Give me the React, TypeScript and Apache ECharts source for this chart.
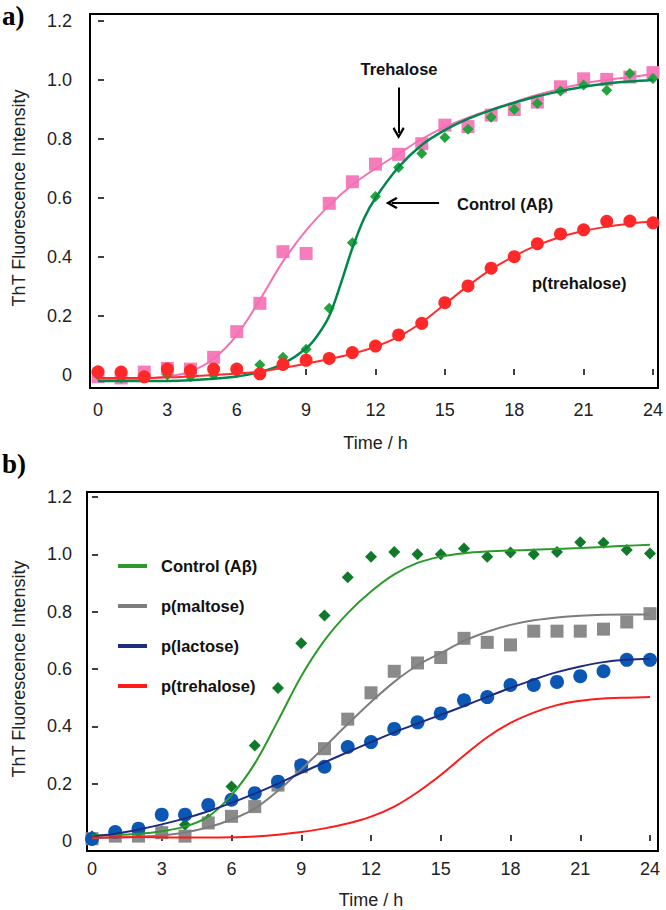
import React, { useEffect, useRef } from 'react';
import * as echarts from 'echarts';

// ---------- data ----------
const hours = [0, 1, 2, 3, 4, 5, 6, 7, 8, 9, 10, 11, 12, 13, 14, 15, 16, 17, 18, 19, 20, 21, 22, 23, 24];
const xTicks = [0, 3, 6, 9, 12, 15, 18, 21, 24];
const yTicks = [0, 0.2, 0.4, 0.6, 0.8, 1.0, 1.2];

// Panel a – measured points
const aTrehalosePts = [-0.006, -0.01, 0.01, 0.022, 0.02, 0.06, 0.147, 0.243, 0.418, 0.412, 0.582, 0.655, 0.715, 0.748, 0.784, 0.847, 0.842, 0.881, 0.9, 0.925, 0.977, 1.004, 1.002, 1.01, 1.025];
const aControlPts = [0.0, -0.01, -0.005, 0.0, -0.006, 0.0, 0.01, 0.035, 0.06, 0.087, 0.226, 0.448, 0.605, 0.703, 0.751, 0.805, 0.833, 0.874, 0.9, 0.92, 0.963, 0.983, 0.965, 1.022, 1.005];
const aPTrehalosePts = [0.011, 0.01, -0.006, 0.02, 0.015, 0.02, 0.02, 0.004, 0.036, 0.05, 0.056, 0.076, 0.098, 0.136, 0.175, 0.245, 0.302, 0.362, 0.401, 0.445, 0.478, 0.492, 0.521, 0.522, 0.516];

// Panel a – fitted curves
const aTrehaloseFit = [-0.015, -0.015, -0.012, -0.005, 0.012, 0.055, 0.135, 0.255, 0.385, 0.49, 0.575, 0.645, 0.7, 0.75, 0.8, 0.84, 0.872, 0.9, 0.925, 0.95, 0.97, 0.988, 1.0, 1.01, 1.02];
const aControlFitHours = [0, 1, 2, 3, 4, 5, 6, 7, 8, 9, 9.5, 10, 10.5, 11, 11.5, 12, 13, 14, 15, 16, 17, 18, 19, 20, 21, 22, 23, 24];
const aControlFit = [-0.02, -0.02, -0.02, -0.02, -0.018, -0.013, -0.005, 0.01, 0.038, 0.09, 0.135, 0.2, 0.31, 0.43, 0.53, 0.6, 0.705, 0.78, 0.83, 0.868, 0.898, 0.923, 0.945, 0.962, 0.977, 0.988, 0.995, 1.0];
const aPTrehaloseFit = [-0.01, -0.01, -0.01, -0.008, -0.005, 0.0, 0.005, 0.012, 0.024, 0.038, 0.054, 0.072, 0.096, 0.13, 0.178, 0.24, 0.302, 0.358, 0.403, 0.44, 0.468, 0.488, 0.503, 0.513, 0.52];

// Panel b – measured points
const bControlPts = [0.017, 0.02, 0.025, 0.035, 0.057, 0.075, 0.19, 0.333, 0.534, 0.69, 0.787, 0.92, 0.992, 1.008, 1.0, 1.0, 1.02, 0.992, 1.006, 1.0, 1.008, 1.042, 1.04, 1.015, 1.003];
const bMaltosePts = [0.008, 0.017, 0.017, 0.029, 0.017, 0.063, 0.086, 0.12, 0.195, 0.259, 0.322, 0.425, 0.517, 0.592, 0.621, 0.64, 0.707, 0.693, 0.684, 0.732, 0.732, 0.732, 0.739, 0.764, 0.793];
const bLactosePts = [0.007, 0.031, 0.043, 0.092, 0.092, 0.126, 0.144, 0.167, 0.207, 0.264, 0.259, 0.328, 0.345, 0.391, 0.414, 0.445, 0.491, 0.502, 0.544, 0.544, 0.555, 0.575, 0.592, 0.632, 0.632];

// Panel b – fitted curves
const bControlFit = [0.02, 0.021, 0.025, 0.034, 0.05, 0.085, 0.16, 0.27, 0.42, 0.575, 0.7, 0.795, 0.87, 0.93, 0.97, 0.992, 1.004, 1.01, 1.013, 1.016, 1.019, 1.022, 1.026, 1.03, 1.033];
const bMaltoseFit = [0.01, 0.012, 0.015, 0.02, 0.03, 0.048, 0.075, 0.113, 0.175, 0.25, 0.328, 0.408, 0.485, 0.555, 0.613, 0.655, 0.698, 0.73, 0.754, 0.77, 0.78, 0.786, 0.789, 0.79, 0.79];
const bLactoseFit = [0.015, 0.025, 0.04, 0.058, 0.079, 0.104, 0.133, 0.165, 0.2, 0.238, 0.274, 0.31, 0.345, 0.379, 0.41, 0.44, 0.471, 0.503, 0.534, 0.563, 0.589, 0.609, 0.624, 0.632, 0.636];
const bPTrehaloseFit = [0.012, 0.013, 0.014, 0.013, 0.012, 0.012, 0.013, 0.016, 0.022, 0.031, 0.044, 0.061, 0.085, 0.12, 0.17, 0.23, 0.298, 0.362, 0.412, 0.448, 0.474, 0.489, 0.497, 0.5, 0.502];

const legendNames = ['Control (Aβ)', 'p(maltose)', 'p(lactose)', 'p(trehalose)'];

// ---------- helpers ----------
const zip = (xs: number[], ys: number[]) => xs.map((x, i) => [x, ys[i]]);
const FONT = 'Liberation Sans, Arial, sans-serif';

const labelXAxis = (gridIndex: number, offset: number, nameGap: number) => ({
  gridIndex,
  type: 'value',
  min: xTicks[0],
  max: xTicks[xTicks.length - 1],
  interval: 3,
  offset,
  axisLine: { show: false },
  axisTick: { show: true, inside: true, length: 6, lineStyle: { color: '#000', width: 1.5 } },
  splitLine: { show: false },
  axisLabel: { fontSize: 18, color: '#222', margin: 13, fontFamily: FONT },
  name: 'Time / h',
  nameLocation: 'middle',
  nameGap,
  nameTextStyle: { fontSize: 18, color: '#222', fontFamily: FONT },
});

const labelYAxis = (gridIndex: number, offset: number, margin: number, nameGap: number) => ({
  gridIndex,
  type: 'value',
  min: yTicks[0],
  max: yTicks[yTicks.length - 1],
  interval: 0.2,
  offset,
  axisLine: { show: false },
  axisTick: { show: true, inside: true, length: 6, lineStyle: { color: '#000', width: 1.5 } },
  splitLine: { show: false },
  axisLabel: {
    fontSize: 18,
    color: '#222',
    margin,
    fontFamily: FONT,
    formatter: (v: number) => (Math.abs(v) < 1e-9 ? '0' : v.toFixed(1)),
  },
  name: 'ThT Fluorescence Intensity',
  nameLocation: 'middle',
  nameRotate: 90,
  nameGap,
  nameTextStyle: { fontSize: 18, color: '#222', fontFamily: FONT },
});

const hiddenAxis = (gridIndex: number) => ({ gridIndex, type: 'value', show: false, min: 0, max: 1 });

const scatter = (name: string, data: number[][], xi: number, symbol: string, size: number, color: string, z = 3) => ({
  name,
  type: 'scatter',
  xAxisIndex: xi,
  yAxisIndex: xi,
  data,
  symbol,
  symbolSize: size,
  itemStyle: { color, opacity: 1 },
  clip: false,
  z,
  silent: true,
});

const fitLine = (name: string, data: number[][], xi: number, color: string, width: number, z = 4, extra: any = {}) => ({
  name,
  type: 'line',
  xAxisIndex: xi,
  yAxisIndex: xi,
  data,
  color,
  showSymbol: false,
  symbol: 'none',
  smooth: 0.35,
  clip: false,
  lineStyle: { color, width },
  z,
  silent: true,
  ...extra,
});

const chevron = 'path://M5,0 L10,8 L8.6,9.2 L5,3.6 L1.4,9.2 L0,8 Z';

const option: any = {
  animation: false,
  backgroundColor: '#fff',
  textStyle: { fontFamily: FONT },
  grid: [
    { left: 90, top: 14, width: 568, height: 374, show: true, borderColor: '#000', borderWidth: 2, backgroundColor: 'transparent' },
    { left: 98, top: 21, width: 557, height: 354 },
    { left: 87, top: 492, width: 571, height: 359, show: true, borderColor: '#000', borderWidth: 2, backgroundColor: 'transparent' },
    { left: 92, top: 497, width: 558, height: 348 },
  ],
  xAxis: [hiddenAxis(0), labelXAxis(1, 13, 46), hiddenAxis(2), labelXAxis(3, 6, 44)],
  yAxis: [hiddenAxis(0), labelYAxis(1, 8, 18, 62), hiddenAxis(2), labelYAxis(3, 5, 15, 59)],
  legend: {
    data: legendNames,
    orient: 'vertical',
    left: 113,
    top: 551,
    icon: 'rect',
    itemWidth: 29,
    itemHeight: 4,
    itemGap: 20,
    selectedMode: false,
    textStyle: { fontSize: 16.5, fontWeight: 'bold', color: '#111', fontFamily: FONT, padding: [0, 0, 0, 9], lineHeight: 20 },
  },
  series: [
    // ----- panel a -----
    scatter('a-trehalose-pts', zip(hours, aTrehalosePts), 1, 'rect', 13, '#f67cbc', 3),
    fitLine('a-trehalose-fit', zip(hours, aTrehaloseFit), 1, '#f56fb3', 2, 4),
    scatter('a-control-pts', zip(hours, aControlPts), 1, 'diamond', 11, '#22a33c', 5),
    fitLine('a-control-fit', zip(aControlFitHours, aControlFit), 1, '#00874b', 2.5, 6),
    scatter('a-ptrehalose-pts', zip(hours, aPTrehalosePts), 1, 'circle', 13, '#ff2828', 7),
    fitLine('a-ptrehalose-fit', zip(hours, aPTrehaloseFit), 1, '#ff2a2a', 2, 8, {
      markLine: {
        silent: true,
        animation: false,
        symbol: ['none', chevron],
        symbolSize: 12,
        label: { show: false },
        lineStyle: { color: '#000', width: 2, type: 'solid' },
        data: [
          [{ coord: [13, 0.975] }, { coord: [13, 0.82] }],
          [{ coord: [14.75, 0.583] }, { coord: [12.7, 0.583] }],
        ],
      },
    }),
    // ----- panel b -----
    scatter('b-control-pts', zip(hours, bControlPts), 3, 'diamond', 12, '#117a2a', 3),
    scatter('b-maltose-pts', zip(hours, bMaltosePts), 3, 'rect', 13, '#8a8a8a', 4),
    scatter('b-lactose-pts', zip(hours, bLactosePts), 3, 'circle', 14, '#0b57b4', 5),
    fitLine('Control (Aβ)', zip(hours, bControlFit), 3, '#2b9a2b', 2, 6),
    fitLine('p(maltose)', zip(hours, bMaltoseFit), 3, '#7d7d7d', 2, 6),
    fitLine('p(lactose)', zip(hours, bLactoseFit), 3, '#1d2c80', 2, 6),
    fitLine('p(trehalose)', zip(hours, bPTrehaloseFit), 3, '#ff1a1a', 2, 6),
  ],
  graphic: [
    { type: 'text', left: 2, top: 2, style: { text: 'a)', font: 'bold 27px "Liberation Serif", "Times New Roman", serif', fill: '#000' } },
    { type: 'text', left: 2, top: 450, style: { text: 'b)', font: 'bold 27px "Liberation Serif", "Times New Roman", serif', fill: '#000' } },
    { type: 'text', x: 399, y: 69, style: { text: 'Trehalose', font: 'bold 16.5px "Liberation Sans", Arial, sans-serif', fill: '#111', align: 'center', verticalAlign: 'middle' } },
    { type: 'text', x: 457, y: 204, style: { text: 'Control (Aβ)', font: 'bold 16.5px "Liberation Sans", Arial, sans-serif', fill: '#111', align: 'left', verticalAlign: 'middle' } },
    { type: 'text', x: 532, y: 283, style: { text: 'p(trehalose)', font: 'bold 16.5px "Liberation Sans", Arial, sans-serif', fill: '#111', align: 'left', verticalAlign: 'middle' } },
  ],
};

export default function App() {
  const ref = useRef<HTMLDivElement>(null);
  useEffect(() => {
    if (!ref.current) return;
    const chart = echarts.init(ref.current, null, { renderer: 'svg' });
    chart.setOption(option);
    return () => chart.dispose();
  }, []);
  return (
    <div
      ref={ref}
      style={{ position: 'absolute', left: 0, top: 0, width: 666, height: 910, background: '#fff' }}
    />
  );
}
